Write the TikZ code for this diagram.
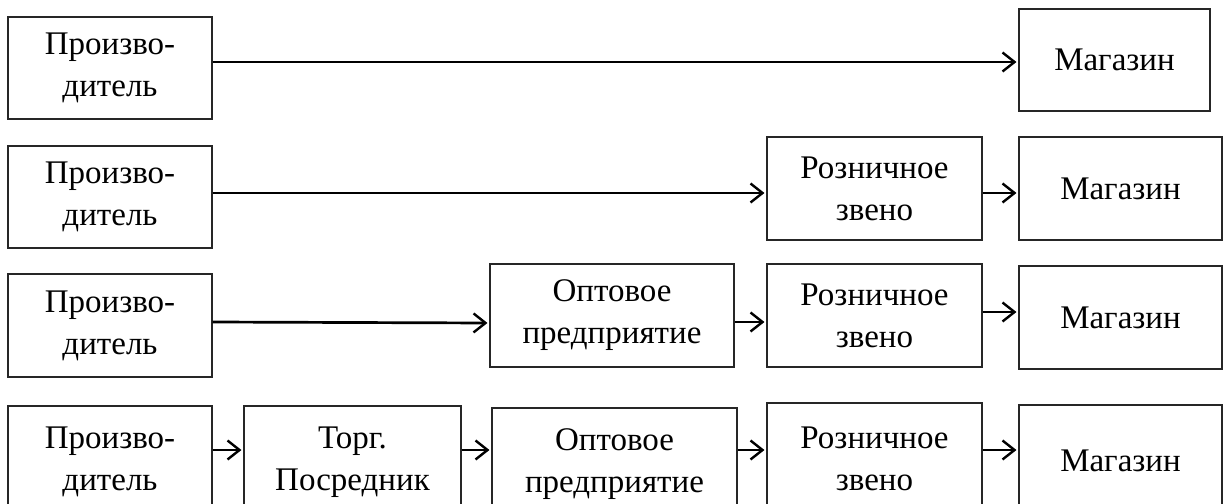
\documentclass[tikz,border=0pt]{standalone}
\usepackage{fontspec}
\setmainfont{Liberation Serif}
\usetikzlibrary{arrows.meta}
\begin{document}
\begin{tikzpicture}[x=1pt,y=-1pt,
  box/.style={draw=black!85,line width=1.1pt,rectangle,inner sep=0pt,align=center,
    font=\fontsize{33}{42}\selectfont},
  arr/.style={line width=2.7pt,-{Straight Barb[length=12pt,width=19pt,line width=2.4pt]},shorten >=2pt}]
\path[use as bounding box,clip] (0,0) rectangle (1228,503);
\fill[white] (0,0) rectangle (1228,503);
% Row 1
\node[box,minimum width=204pt,minimum height=102pt] (p1) at (110,68) {Произво-\\дитель};
\node[box,minimum width=191pt,minimum height=102pt] (m1) at (1114.5,60) {Магазин};
% Row 2
\node[box,minimum width=204pt,minimum height=102pt] (p2) at (110,197) {Произво-\\дитель};
\node[box,minimum width=215pt,minimum height=103pt] (r2) at (874.5,188.5) {Розничное\\звено};
\node[box,minimum width=203pt,minimum height=103pt] (m2) at (1120.5,188.5) {Магазин};
% Row 3
\node[box,minimum width=204pt,minimum height=103pt] (p3) at (110,325.5) {Произво-\\дитель};
\node[box,minimum width=244pt,minimum height=103pt] (o3) at (612,315.5) {Оптовое\\предприятие};
\node[box,minimum width=215pt,minimum height=103pt] (r3) at (874.5,315.5) {Розничное\\звено};
\node[box,minimum width=203pt,minimum height=103pt] (m3) at (1120.5,317.5) {Магазин};
% Row 4
\node[box,minimum width=204pt,minimum height=112pt] (p4) at (110,462) {Произво-\\дитель};
\node[box,minimum width=217pt,minimum height=112pt] (t4) at (352.5,462) {Торг.\\Посредник};
\node[box,minimum width=245pt,minimum height=112pt] (o4) at (614.5,464) {Оптовое\\предприятие};
\node[box,minimum width=215pt,minimum height=112pt] (r4) at (874.5,459) {Розничное\\звено};
\node[box,minimum width=203pt,minimum height=112pt] (m4) at (1120.5,461) {Магазин};
% Arrows
\draw[arr] ([yshift=6pt]p1.east) -- ([yshift=-2pt]m1.west);
\draw[arr] ([yshift=4pt]p2.east) -- ([yshift=-4.5pt]r2.west);
\draw[arr] ([yshift=-4.5pt]r2.east) -- ([yshift=-4.5pt]m2.west);
\draw[arr] ([yshift=3.5pt]p3.east) -- ([yshift=-7.5pt]o3.west);
\draw[arr] ([yshift=-6.5pt]o3.east) -- ([yshift=-6.5pt]r3.west);
\draw[arr] ([yshift=3.5pt]r3.east) -- ([yshift=5.5pt]m3.west);
\draw[arr] ([yshift=12pt]p4.east) -- ([yshift=12pt]t4.west);
\draw[arr] ([yshift=12pt]t4.east) -- ([yshift=14pt]o4.west);
\draw[arr] ([yshift=14pt]o4.east) -- ([yshift=9pt]r4.west);
\draw[arr] ([yshift=9pt]r4.east) -- ([yshift=11pt]m4.west);
\end{tikzpicture}
\end{document}
